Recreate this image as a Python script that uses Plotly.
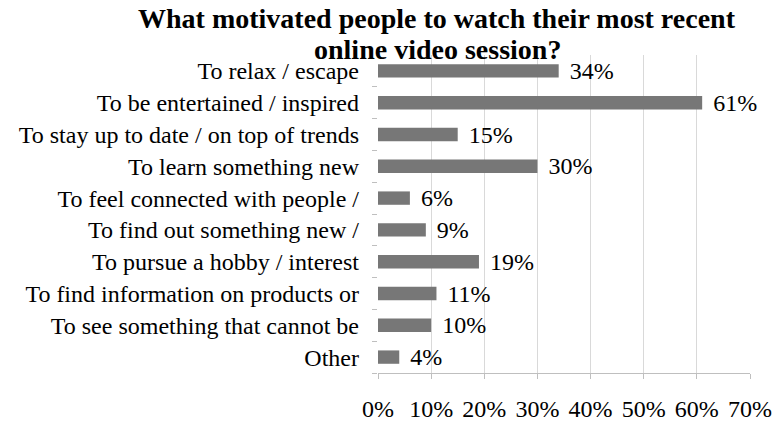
import plotly.graph_objects as go

# Survey reasons, top to bottom as listed
reasons = [
    "To relax / escape",
    "To be entertained / inspired",
    "To stay up to date / on top of trends",
    "To learn something new",
    "To feel connected with people /",
    "To find out something new /",
    "To pursue a hobby / interest",
    "To find information on products or",
    "To see something that cannot be",
    "Other",
]
shares = [34, 61, 15, 30, 6, 9, 19, 11, 10, 4]  # percent of respondents
x_ticks = [0, 10, 20, 30, 40, 50, 60, 70]
x_tick_text = [f"{t}%" for t in x_ticks]
title_lines = [
    "What motivated people to watch their most recent",
    "online video session?",
]

serif = "Liberation Serif"

fig = go.Figure(
    go.Bar(
        x=shares,
        y=reasons,
        orientation="h",
        width=0.42,
        marker=dict(color="#777777", line=dict(width=0)),
        text=[f"\u00a0\u200a{v}%" for v in shares],
        textposition="outside",
        constraintext="none",
        cliponaxis=False,
        textfont=dict(family=serif, size=24, color="#000000"),
    )
)

# Two-line bold title, each line placed on its own
title_y = [1.114, 1.018]
for line, ypos in zip(title_lines, title_y):
    fig.add_annotation(
        text=f"<b>{line}</b>",
        xref="paper",
        yref="paper",
        x=(437 - 378) / (750 - 378),
        y=ypos,
        xanchor="center",
        yanchor="middle",
        showarrow=False,
        font=dict(family=serif, size=28, color="#000000"),
    )

fig.update_layout(
    width=773,
    height=423,
    margin=dict(l=378, r=23, t=55, b=50, autoexpand=False),
    paper_bgcolor="white",
    plot_bgcolor="white",
    showlegend=False,
    font=dict(family=serif, size=24, color="#000000"),
)

fig.update_xaxes(
    range=[0, 70],
    tickmode="array",
    tickvals=x_ticks,
    ticktext=x_tick_text,
    automargin=False,
    showgrid=True,
    gridcolor="#d9d9d9",
    gridwidth=1,
    zeroline=False,
    showline=True,
    linecolor="#bfbfbf",
    ticks="outside",
    ticklen=5,
    tickcolor="#bfbfbf",
    ticklabelstandoff=9,
    tickfont=dict(family=serif, size=24, color="#000000"),
)

fig.update_yaxes(
    categoryorder="array",
    categoryarray=reasons[::-1],
    tickmode="array",
    tickvals=reasons,
    automargin=False,
    range=[-0.5, len(reasons) - 0.5],
    showgrid=False,
    zeroline=False,
    showline=False,
    ticks="outside",
    tickson="boundaries",
    ticklen=5,
    tickcolor="#bfbfbf",
    ticklabelstandoff=18,
    tickfont=dict(family=serif, size=24, color="#000000"),
)

fig.write_html("out.html")
